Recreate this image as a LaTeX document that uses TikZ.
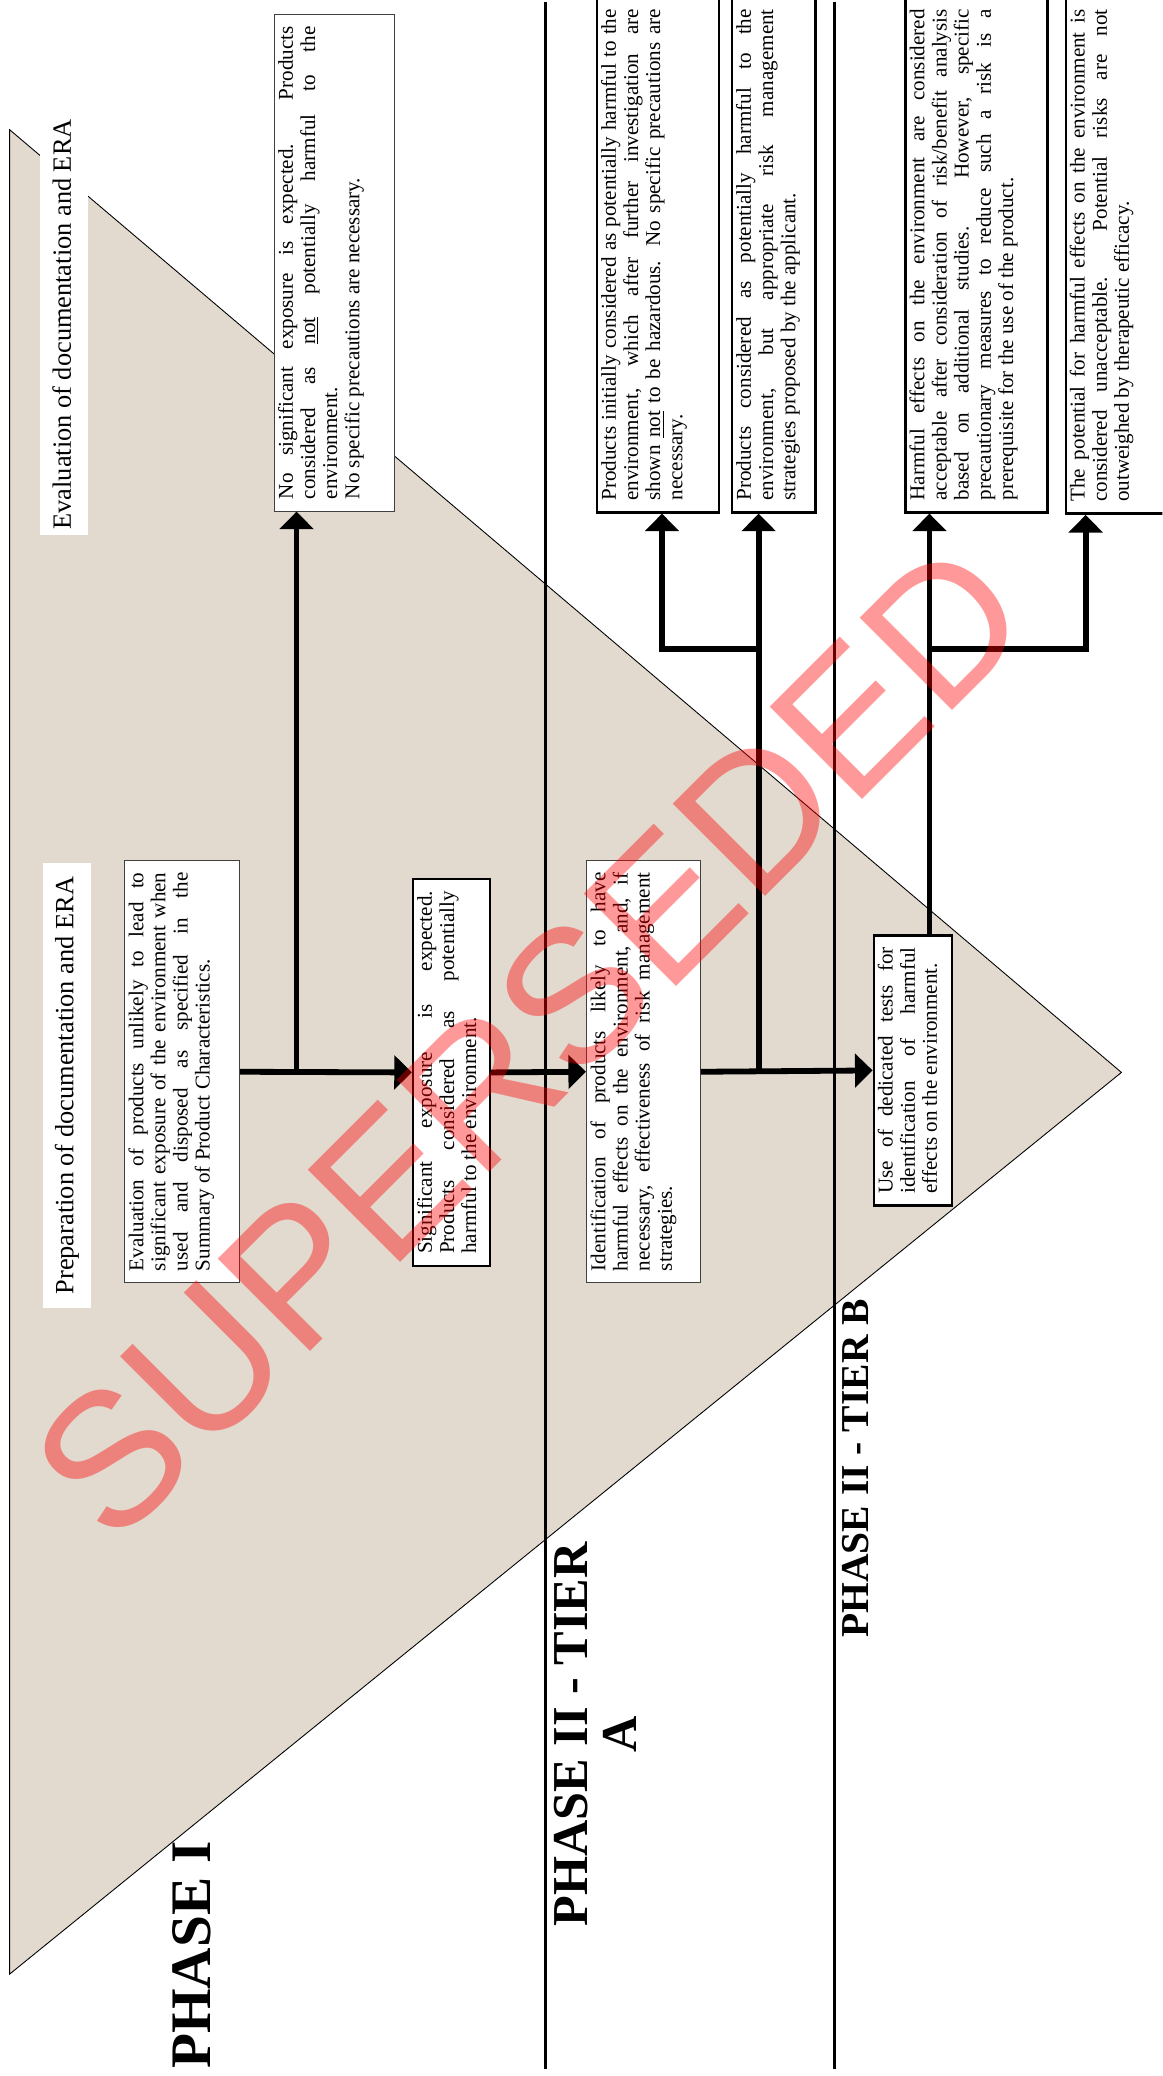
\documentclass[tikz,border=0pt]{standalone}
\usepackage{fontspec}
\setmainfont{Liberation Serif}
\newfontfamily\stampfont{Liberation Sans}
\usetikzlibrary{arrows.meta}

\definecolor{tribeige}{RGB}{226,218,207}
\newdimen\dpx
\dpx=0.02647cm
\newcommand\boxfont{\fontsize{12}{12.6}\selectfont}
\tolerance=10000
\hbadness=10000
\vbadness=10000
\hyphenpenalty=10000

\begin{document}
\begin{tikzpicture}[
    x=0.02647cm,
    y=-0.02647cm,
    tbox/.style={
        rectangle,
        draw=black!75,
        line width=0.6pt,
        fill=white,
        rotate=90,
        inner xsep=9\dpx,
        inner ysep=3\dpx,
        font=\boxfont,
    },
    hbox/.style={tbox, draw=black, line width=1.4pt},
    tag/.style={
        fill=white,
        rotate=90,
        inner xsep=3pt,
        inner ysep=4pt,
        text height=13.5pt,
        text depth=6pt,
        font=\fontsize{15}{18}\selectfont,
    },
    phase/.style={rotate=90, inner sep=0pt},
    sepline/.style={line width=1.7pt},
    flow/.style={line width=3.3pt, -{Triangle[length=10pt,width=19pt]}},
    stamp/.style={
        rotate=45,
        inner sep=0pt,
        text=red,
        text opacity=0.4,
        font=\stampfont\fontsize{108}{108}\selectfont,
    },
]

    \useasboundingbox (0,0) rectangle (878,1568);
    \clip (0,0) rectangle (878,1568);

    % background
    \filldraw[fill=tribeige, draw=black, line width=0.5pt]
        (7.3,98) -- (847,810) -- (7.3,1491) -- cycle;
    \draw[sepline] (412,1.5) -- (412,1563);
    \draw[sepline] (630,1.5) -- (630,1563);

    \node[tag, minimum width=316\dpx] (evaltag) at (48.5,245) {Evaluation of documentation and ERA};
    \node[tag, minimum width=336\dpx] (preptag) at (50.5,820) {Preparation of documentation and ERA};

    \node[phase, anchor=base, font=\bfseries\fontsize{32.6}{34}\selectfont] (phaseone) at (159,1476.5) {PHASE I};
    \node[phase, align=center, font=\bfseries\fontsize{28.6}{27.9}\selectfont] (tiera) at (449.5,1310) {PHASE II - TIER\\A};
    \node[phase, anchor=base, font=\bfseries\fontsize{22.5}{24}\selectfont] (tierb) at (656,1109) {PHASE II - TIER B};

    % boxes
    \node[tbox] (evalbox) at (137.5,809.5) {\parbox[c][81\dpx][t]{301\dpx}{Evaluation of products unlikely to lead to\linebreak significant exposure of the environment when\linebreak used and disposed as specified in the\linebreak Summary of Product Characteristics.}};
    \node[tbox] (noexpbox) at (252.5,198.5) {\parbox[c][85\dpx][t]{357\dpx}{No significant exposure is expected. Products\linebreak considered as \underline{not} potentially harmful to the\linebreak environment.\\No specific precautions are necessary.}};
    \node[hbox] (sigbox) at (341,810) {\parbox[c][52\dpx][t]{274\dpx}{Significant exposure is expected.\linebreak Products considered as potentially\linebreak harmful to the environment.}};
    \node[tbox] (identbox) at (486,809.5) {\parbox[c][80\dpx][t]{301\dpx}{Identification of products likely to have\linebreak harmful effects on the environment, and, if\linebreak necessary, effectiveness of risk management\linebreak strategies.}};
    \node[hbox] (testbox) at (689.5,808.5) {\parbox[c][53\dpx][t]{186\dpx}{Use of dedicated tests for\linebreak identification of harmful\linebreak effects on the environment.}};
    \node[hbox] (notharmbox) at (497,192.5) {\parbox[c][86\dpx][t]{371\dpx}{Products initially considered as potentially harmful to the\linebreak environment, which after further investigation are\linebreak shown \underline{not} to be hazardous. No specific precautions are\linebreak necessary.}};
    \node[hbox] (riskbox) at (584.5,192.5) {\parbox[c][57\dpx][t]{371\dpx}{Products considered as potentially harmful to the\linebreak environment, but appropriate risk management\linebreak strategies proposed by the applicant.}};
    \node[hbox] (accbox) at (737.5,192.5) {\parbox[c][101\dpx][t]{371\dpx}{Harmful effects on the environment are considered\linebreak acceptable after consideration of risk/benefit analysis\linebreak based on additional studies. However, specific\linebreak precautionary measures to reduce such a risk is a\linebreak prerequisite for the use of the product.}};
    \node[hbox] (unaccbox) at (865,193) {\parbox[c][114\dpx][t]{372\dpx}{The potential for harmful effects on the environment is\linebreak considered unacceptable. Potential risks are not\linebreak outweighed by therapeutic efficacy.}};

    % arrows
    \coordinate (j1) at (224,810);
    \coordinate (j2) at (573,810);
    \coordinate (k1) at (500,490);
    \coordinate (k2) at (573,490);
    \coordinate (k3) at (702,490);
    \coordinate (k4) at (820,490);

    \draw[flow] (evalbox.south) -- (sigbox.north);
    \draw[flow] (j1) -- (j1 |- noexpbox.west);
    \draw[flow] (sigbox.south) -- (identbox.north);
    \draw[flow] (identbox.south) -- (testbox.north);
    \draw[flow] (j2) -- (j2 |- riskbox.west);
    \draw[flow] (k2) -- (k1) -- (k1 |- notharmbox.west);
    \draw[flow] (k3 |- testbox.east) -- (k3 |- accbox.west);
    \draw[flow] (k3) -- (k4) -- (k4 |- unaccbox.west);

    \node[stamp] (superseded) at (400,786) {SUPERSEDED};

\end{tikzpicture}
\end{document}
